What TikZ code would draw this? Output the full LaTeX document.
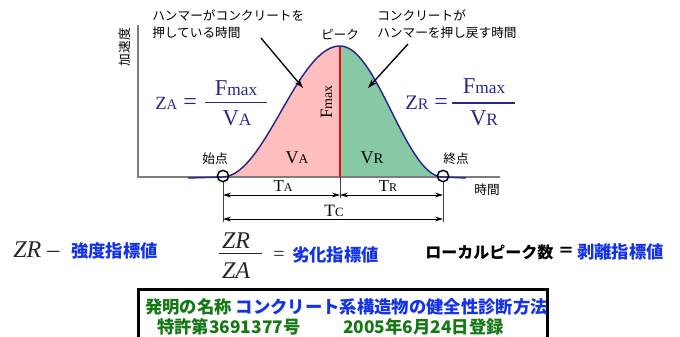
\documentclass[tikz,border=0pt]{standalone}
\usepackage{fontspec}
\setmainfont{Liberation Serif}
\newfontfamily\jp{Noto Sans CJK JP}
\usetikzlibrary{arrows.meta}
\definecolor{navy}{RGB}{40,40,140}
\definecolor{pinkfill}{RGB}{255,190,190}
\definecolor{greenfill}{RGB}{135,200,165}
\definecolor{txtblue}{RGB}{20,50,230}
\definecolor{txtgreen}{RGB}{20,120,20}
\definecolor{axisgray}{RGB}{125,125,125}
\newcommand\fs[1]{\fontsize{#1}{#1}\selectfont}
\tikzset{
  lbl/.style={inner sep=0pt, font=\jp\fs{9.5}},
  frm/.style={inner sep=0pt, navy},
  dimline/.style={line width=0.6pt, black!75},
  dimarr/.style={line width=0.7pt, black, {Stealth[length=6pt,width=3.6pt]}-{Stealth[length=6pt,width=3.6pt]}},
  callout/.style={line width=1pt, black, -{Stealth[length=7pt,width=4.5pt]}},
  bigjp/.style={inner sep=0pt, font=\jp\bfseries\fs{13}},
}
\begin{document}
\begin{tikzpicture}[x=0.75pt,y=-0.75pt]
\useasboundingbox (0,0) rectangle (680,336);

% filled areas
\fill[pinkfill] (222,177) -- plot[domain=222:340,samples=60] (\x,{177-65.5*(1+cos((340-\x)*1.52542))}) -- (340,177) -- cycle;
\fill[greenfill] (340,177) -- plot[domain=340:443,samples=60] (\x,{177-65.5*(1+cos((\x-340)*1.74757))}) -- cycle;

% axes
\coordinate (ytop) at (138,25);
\coordinate (orig) at (138,177);
\coordinate (xend) at (500,177);
\draw[axisgray, line width=1.5pt] (ytop) -- (orig) -- (xend);

% peak line
\coordinate (pk) at (340,46);
\coordinate (pkb) at (340,177);
\draw[red, line width=1.1pt] (pk) -- (pkb);

% curve
\draw[navy, line width=1.1pt] (188,178) -- (222,177)
  -- plot[domain=222:340,samples=60] (\x,{177-65.5*(1+cos((340-\x)*1.52542))})
  -- plot[domain=340:443,samples=60] (\x,{177-65.5*(1+cos((\x-340)*1.74757))})
  -- (466,178);

% start / end circles
\node[circle, draw, line width=1.1pt, minimum size=8.5pt, inner sep=0pt] (st) at (223,176) {};
\node[circle, draw, line width=1.1pt, minimum size=8.5pt, inner sep=0pt] (en) at (443,176) {};

% dimension lines
\coordinate (d1) at (223,222);
\coordinate (d2) at (443,222);
\coordinate (d3) at (340,198);
\draw[dimline] (st.south) -- (d1);
\draw[dimline] (en.south) -- (d2);
\draw[dimline] (pkb) -- (d3);
\coordinate (ta1) at (223,195);
\coordinate (ta2) at (340,195);
\coordinate (tr2) at (443,195);
\coordinate (tc1) at (223,219);
\coordinate (tc2) at (443,219);
\draw[dimarr] (ta1) -- (ta2);
\draw[dimarr] (ta2) -- (tr2);
\draw[dimarr] (tc1) -- (tc2);
\node[anchor=base, inner sep=0pt] (ta) at (283,191) {\fs{12.5}T\fs{9}A};
\node[anchor=base, inner sep=0pt] (tr) at (388,191) {\fs{12.5}T\fs{9}R};
\node[anchor=base, inner sep=0pt] (tc) at (334,216) {\fs{13}T\fs{9.5}C};

% area labels
\node[anchor=base, inner sep=0pt] (va) at (297,163) {\fs{13.5}V\fs{10}A};
\node[anchor=base, inner sep=0pt] (vr) at (372,163) {\fs{13.5}V\fs{11}R};
\node[anchor=base, rotate=90, inner sep=0pt] (fm) at (332,102) {\fs{13}F\fs{10.5}max};

% text labels
\node[lbl] (acc) at (125,47) [rotate=90] {加速度};
\node[lbl] (peak) at (340,35) {ピーク};
\node[lbl] (sp) at (215,159) {始点};
\node[lbl] (ep) at (456,159) {終点};
\node[lbl] (time) at (487,190) {時間};
\node[lbl, anchor=west] (hl1) at (152,15) {ハンマーがコンクリートを};
\node[lbl, anchor=west] (hl2) at (152,33) {押している時間};
\node[lbl, anchor=west] (hr1) at (377,15) {コンクリートが};
\node[lbl, anchor=west] (hr2) at (377,33) {ハンマーを押し戻す時間};

% callout arrows
\coordinate (c1s) at (261,38);
\coordinate (c1e) at (303,88);
\coordinate (c2s) at (408,44);
\coordinate (c2e) at (368,88);
\draw[callout] (c1s) -- (c1e);
\draw[callout] (c2s) -- (c2e);

% ZA formula
\node[frm, anchor=base west] (zal) at (155,109) {\fs{14}Z\fs{11}A};
\node[frm, anchor=base west] (zaeq) at (183,109) {\fs{18}=};
\node[frm, anchor=base] (zan) at (236,95) {\fs{17}F\fs{13}max};
\node[frm, anchor=base] (zad) at (237,125) {\fs{17}V\fs{13}A};
\draw[navy, line width=0.9pt] (205,102.5) -- (267,102.5);

% ZR formula
\node[frm, anchor=base west] (zrl) at (405,109) {\fs{15.5}Z\fs{12}R};
\node[frm, anchor=base west] (zreq) at (434,109) {\fs{18}=};
\node[frm, anchor=base] (zrn) at (484,93) {\fs{17}F\fs{13}max};
\node[frm, anchor=base] (zrd) at (484,125) {\fs{17}V\fs{13}R};
\draw[navy, line width=0.9pt] (452,103) -- (515,103);

% bottom definitions
\node[anchor=base west, inner sep=0pt, black!85] (zr0) at (13,257) {\fs{18}\itshape ZR\upshape\ –};
\node[bigjp, anchor=west, txtblue] (k1) at (71,251) {強度指標値};
\node[anchor=base, inner sep=0pt, black!85] (fn) at (236,248) {\fs{18}\itshape ZR};
\node[anchor=base, inner sep=0pt, black!85] (fd) at (236,278) {\fs{18}\itshape ZA};
\draw[black!85, line width=0.6pt] (219,253) -- (262,253);
\node[inner sep=0pt, black!85] (feq) at (279,256) {\fs{15}=};
\node[bigjp, anchor=west, txtblue] (k2) at (292,255) {劣化指標値};
\node[inner sep=0pt, anchor=west, font=\jp\bfseries\fs{12}] (k3) at (425,252) {ローカルピーク数};
\node[inner sep=0pt, font=\jp\bfseries\fs{12}] (k3eq) at (566,252) {＝};
\node[bigjp, anchor=west, txtblue] (k4) at (577,252) {剥離指標値};

% patent box
\draw[line width=2.25pt] (138,289) rectangle (547,352);
\node[bigjp, anchor=west] (p1) at (145,307) {\color{txtgreen}発明の名称 \color{txtblue}コンクリート系構造物の健全性診断方法};
\node[bigjp, anchor=west, txtgreen] (p2) at (157,327) {特許第3691377号};
\node[bigjp, anchor=west, txtgreen] (p3) at (343,327) {2005年6月24日登録};
\end{tikzpicture}
\end{document}
